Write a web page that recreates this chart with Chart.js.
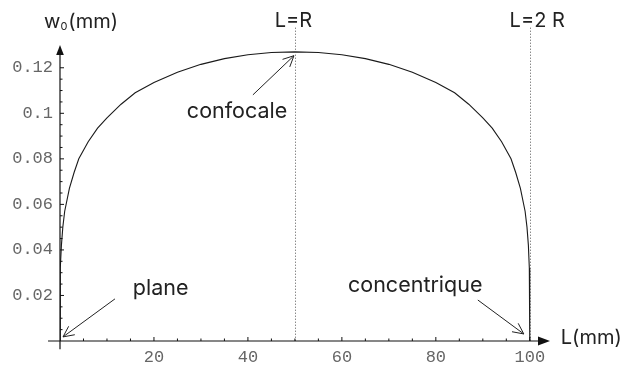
<!DOCTYPE html>
<html>
<head>
<meta charset="utf-8">
<script src="https://cdn.jsdelivr.net/npm/chart.js@4"></script>
<style>
html,body{margin:0;padding:0;background:#fff;}
#wrap{width:624px;height:365px;position:relative;}
</style>
</head>
<body>
<div id="wrap"><canvas id="c" width="624" height="365"></canvas></div>
<script>
// Data
const cavityLength = [0,0.02,0.1,0.3,0.6,1,2,3,4,6,8,10,13,16,20,25,30,35,40,45,50,55,60,65,70,75,80,84,87,90,92,94,96,97,98,99,99.4,99.7,99.9,99.98,100];
const waist = [0,0.021,0.032,0.042,0.050,0.057,0.067,0.074,0.080,0.0875,0.0935,0.098,0.104,0.109,0.1135,0.118,0.1215,0.124,0.1257,0.1267,0.127,0.1267,0.1257,0.124,0.1215,0.118,0.1135,0.109,0.104,0.098,0.0935,0.0875,0.080,0.074,0.067,0.057,0.050,0.042,0.032,0.021,0];
const xTickValues = [20,40,60,80,100];
const xTickLabels = ['20','40','60','80','100'];
const yTickValues = [0.02,0.04,0.06,0.08,0.1,0.12];
const yTickLabels = ['0.02','0.04','0.06','0.08','0.1','0.12'];
const refLines = [50,100];
const refLabels = ['L=R','L=2 R'];
const annotationTexts = ['confocale','plane','concentrique'];
const annotationTextAt = [[27.0,0.098],[15.5,0.0202],[61.3,0.0215]];
const annotationArrowFrom = [[41.06,0.1081],[11.7,0.0185],[88.94,0.0180]];
const annotationArrowTo = [[49.8,0.1253],[0.64,0.0018],[98.72,0.0031]];

const points = cavityLength.map((x,i)=>({x:x,y:waist[i]}));

const TEXT_FONT = '21.5px Inter, "Open Sans", sans-serif';
const LABEL_FONT = '20px Inter, "Open Sans", sans-serif';
const TEXT_COLOR = '#222';

function arrowHead(ctx, x1, y1, x2, y2, len, ang){
  const a = Math.atan2(y2-y1, x2-x1);
  ctx.beginPath();
  ctx.moveTo(x2 - len*Math.cos(a-ang), y2 - len*Math.sin(a-ang));
  ctx.lineTo(x2, y2);
  ctx.lineTo(x2 - len*Math.cos(a+ang), y2 - len*Math.sin(a+ang));
  ctx.stroke();
}

const decor = {
  id:'decor',
  afterDatasetsDraw(chart){
    const ctx = chart.ctx;
    const xs = chart.scales.x, ys = chart.scales.y;
    const px = v => xs.getPixelForValue(v);
    const py = v => ys.getPixelForValue(v);
    ctx.save();
    // reference dotted lines
    ctx.strokeStyle = '#555';
    ctx.lineWidth = 1;
    ctx.setLineDash([1,2]);
    refLines.forEach(v=>{
      const x = Math.round(px(v))+0.5;
      ctx.beginPath(); ctx.moveTo(x, py(0.1376)); ctx.lineTo(x, py(0)); ctx.stroke();
    });
    ctx.setLineDash([]);
    // axes
    ctx.strokeStyle = '#111';
    ctx.fillStyle = '#111';
    ctx.lineWidth = 1.2;
    const x0 = px(0), y0 = py(0);
    const xEnd = px(104.3), yTop = py(0.13);
    ctx.beginPath(); ctx.moveTo(px(-2.55), y0); ctx.lineTo(xEnd-10, y0); ctx.stroke();
    ctx.beginPath(); ctx.moveTo(x0, py(-0.0036)); ctx.lineTo(x0, yTop+8); ctx.stroke();
    // arrowheads
    ctx.beginPath(); ctx.moveTo(xEnd, y0); ctx.lineTo(xEnd-12, y0-4.5); ctx.lineTo(xEnd-12, y0+4.5); ctx.closePath(); ctx.fill();
    ctx.beginPath(); ctx.moveTo(x0, yTop); ctx.lineTo(x0-3.8, yTop+10); ctx.lineTo(x0+3.8, yTop+10); ctx.closePath(); ctx.fill();
    // ticks
    ctx.lineWidth = 1;
    for(let v=5; v<=100; v+=5){
      const major = v%20===0;
      const x = px(v);
      ctx.beginPath(); ctx.moveTo(x, y0); ctx.lineTo(x, y0-(major?4:2.5)); ctx.stroke();
    }
    for(let k=1; k<=24; k++){
      const v = k*0.005;
      const major = k%4===0;
      const y = py(v);
      ctx.beginPath(); ctx.moveTo(x0, y); ctx.lineTo(x0+(major?4:2.5), y); ctx.stroke();
    }
    // annotation arrows
    ctx.lineWidth = 1;
    ctx.strokeStyle = '#222';
    annotationArrowFrom.forEach((f,i)=>{
      const t = annotationArrowTo[i];
      const x1=px(f[0]), y1=py(f[1]), x2=px(t[0]), y2=py(t[1]);
      ctx.beginPath(); ctx.moveTo(x1,y1); ctx.lineTo(x2,y2); ctx.stroke();
      arrowHead(ctx,x1,y1,x2,y2,12,0.45);
    });
    // texts
    ctx.fillStyle = TEXT_COLOR;
    ctx.font = TEXT_FONT;
    ctx.textAlign = 'left';
    ctx.textBaseline = 'alphabetic';
    annotationTexts.forEach((t,i)=>{
      ctx.fillText(t, px(annotationTextAt[i][0]), py(annotationTextAt[i][1]));
    });
    ctx.font = LABEL_FONT;
    const refLabelX = [45.7, 95.7];
    refLabels.forEach((t,i)=>{ ctx.fillText(t, px(refLabelX[i]), py(0.1378)); });
    ctx.fillText('L(mm)', px(106.6), py(-0.0013));
    // y-axis title w0(mm)
    let tx = px(-3.4), ty = py(0.1376);
    ctx.fillText('w', tx, ty);
    tx += ctx.measureText('w').width;
    ctx.font = '11px Inter, "Open Sans", sans-serif';
    ctx.fillText('0', tx, ty+2);
    tx += ctx.measureText('0').width + 1;
    ctx.font = LABEL_FONT;
    ctx.fillText('(mm)', tx, ty);
    ctx.restore();
  }
};

new Chart(document.getElementById('c'), {
  type:'line',
  data:{datasets:[{data:points, borderColor:'#1a1a1a', borderWidth:1.1, pointRadius:0, tension:0, fill:false}]},
  options:{
    responsive:false, animation:false,
    layout:{padding:{left:0,right:74,top:45,bottom:0}},
    plugins:{legend:{display:false}, tooltip:{enabled:false}},
    scales:{
      x:{type:'linear', min:0, max:104.3, border:{display:false}, grid:{display:false, drawTicks:false},
        afterBuildTicks(s){ s.ticks = xTickValues.map(v=>({value:v})); },
        afterFit(s){ s.height = 24; },
        ticks:{autoSkip:false, maxRotation:0, padding:6, color:'#666', font:{family:'"Liberation Mono", monospace', size:17},
          callback(v,i){ return xTickLabels[i]; }}},
      y:{type:'linear', min:0, max:0.13, border:{display:false}, grid:{display:false, drawTicks:false},
        afterBuildTicks(s){ s.ticks = yTickValues.map(v=>({value:v})); },
        afterFit(s){ s.width = 60; },
        ticks:{autoSkip:false, padding:7, color:'#666', font:{family:'"Liberation Mono", monospace', size:17},
          callback(v,i){ return yTickLabels[i]; }}}
    }
  },
  plugins:[decor]
});
</script>
</body>
</html>
